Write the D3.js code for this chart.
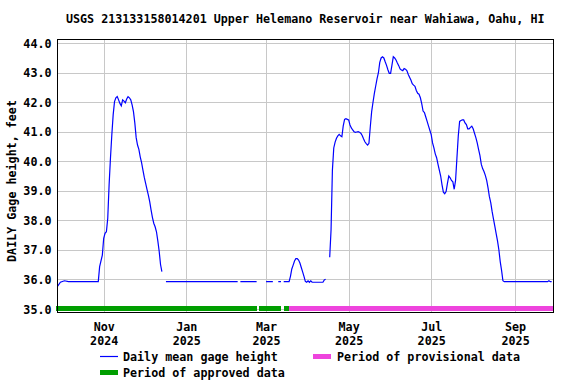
<!DOCTYPE html>
<html>
<head>
<meta charset="utf-8">
<script src="https://cdn.jsdelivr.net/npm/d3@7"></script>
<style>
  body { margin: 0; background: #fff; }
  svg text { font-family: "DejaVu Sans Mono", monospace; font-weight: bold; font-size: 11.7px; fill: #000; }
</style>
</head>
<body>
<svg id="chart" width="576" height="384"></svg>
<script>
const title = "USGS 213133158014201 Upper Helemano Reservoir near Wahiawa, Oahu, HI";
const yLabel = "DAILY Gage height, feet";

// daily mean gage height (null = no data)
const dates = [
  "2024-09-28","2024-09-30","2024-10-03","2024-10-06","2024-10-28","2024-10-29","2024-10-31",
  "2024-11-01","2024-11-02","2024-11-03","2024-11-04","2024-11-05","2024-11-06","2024-11-07",
  "2024-11-08","2024-11-09","2024-11-10","2024-11-11","2024-11-12","2024-11-13","2024-11-14",
  "2024-11-15","2024-11-16","2024-11-17","2024-11-18","2024-11-19","2024-11-20","2024-11-21",
  "2024-11-22","2024-11-23","2024-11-24","2024-11-25","2024-11-26","2024-11-27","2024-11-28",
  "2024-11-29","2024-11-30","2024-12-01","2024-12-02","2024-12-03","2024-12-04","2024-12-05",
  "2024-12-06","2024-12-07","2024-12-08","2024-12-09","2024-12-10","2024-12-11","2024-12-12",
  "2024-12-13","2024-12-14","2024-12-15","2024-12-17","2025-02-08","2025-02-09","2025-02-10",
  "2025-02-22","2025-02-23","2025-03-01","2025-03-06","2025-03-07","2025-03-10","2025-03-12",
  "2025-03-13","2025-03-14","2025-03-18","2025-03-19","2025-03-20","2025-03-21","2025-03-22",
  "2025-03-23","2025-03-24","2025-03-25","2025-03-26","2025-03-27","2025-03-28","2025-03-29",
  "2025-03-30","2025-03-31","2025-04-01","2025-04-02","2025-04-03","2025-04-04","2025-04-12",
  "2025-04-13","2025-04-14","2025-04-15","2025-04-17","2025-04-18","2025-04-19","2025-04-20",
  "2025-04-21","2025-04-22","2025-04-23","2025-04-24","2025-04-25","2025-04-26","2025-04-27",
  "2025-04-28","2025-04-29","2025-04-30","2025-05-01","2025-05-02","2025-05-03","2025-05-04",
  "2025-05-05","2025-05-06","2025-05-07","2025-05-08","2025-05-09","2025-05-10","2025-05-11",
  "2025-05-12","2025-05-13","2025-05-14","2025-05-15","2025-05-16","2025-05-17","2025-05-18",
  "2025-05-19","2025-05-20","2025-05-21","2025-05-22","2025-05-23","2025-05-24","2025-05-25",
  "2025-05-26","2025-05-27","2025-05-28","2025-05-29","2025-05-30","2025-05-31","2025-06-01",
  "2025-06-02","2025-06-03","2025-06-04","2025-06-05","2025-06-06","2025-06-07","2025-06-08",
  "2025-06-09","2025-06-10","2025-06-11","2025-06-12","2025-06-13","2025-06-14","2025-06-15",
  "2025-06-16","2025-06-17","2025-06-18","2025-06-19","2025-06-20","2025-06-21","2025-06-22",
  "2025-06-23","2025-06-24","2025-06-25","2025-06-26","2025-06-27","2025-06-28","2025-06-29",
  "2025-06-30","2025-07-01","2025-07-02","2025-07-03","2025-07-04","2025-07-05","2025-07-06",
  "2025-07-07","2025-07-08","2025-07-09","2025-07-10","2025-07-11","2025-07-12","2025-07-13",
  "2025-07-14","2025-07-15","2025-07-16","2025-07-17","2025-07-18","2025-07-19","2025-07-20",
  "2025-07-21","2025-07-22","2025-07-23","2025-07-24","2025-07-25","2025-07-26","2025-07-27",
  "2025-07-28","2025-07-29","2025-07-30","2025-07-31","2025-08-01","2025-08-02","2025-08-03",
  "2025-08-04","2025-08-05","2025-08-06","2025-08-07","2025-08-08","2025-08-09","2025-08-10",
  "2025-08-11","2025-08-12","2025-08-13","2025-08-14","2025-08-15","2025-08-16","2025-08-17",
  "2025-08-18","2025-08-19","2025-08-20","2025-08-21","2025-08-22","2025-08-23","2025-08-24",
  "2025-09-25","2025-09-26","2025-09-27","2025-09-28"
];
const values = [
  35.77, 35.90, 35.95, 35.92, 35.92, 36.43, 36.82,
  37.39, 37.56, 37.61, 38.07, 39.20, 40.10, 40.89,
  41.57, 42.02, 42.15, 42.19, 42.08, 41.96, 41.88,
  42.08, 42.04, 41.98, 42.11, 42.19, 42.15, 42.08,
  41.91, 41.68, 41.30, 40.80, 40.55, 40.40, 40.15,
  39.95, 39.70, 39.45, 39.25, 39.05, 38.85, 38.63,
  38.35, 38.10, 37.90, 37.78, 37.61, 37.30, 36.95,
  36.50, 36.26, null, 35.92, 35.92, null, 35.92,
  35.92, null, 35.92, 35.92, null, 35.92, 35.92,
  null, 35.92, 35.92, 36.10, 36.35, 36.48, 36.62,
  36.70, 36.70, 36.65, 36.55, 36.40, 36.25, 36.10,
  35.93, 35.90, 35.95, 35.90, 35.95, 35.90, 35.90,
  35.98, 36.00, null, 36.75, 37.67, 39.70, 40.45,
  40.65, 40.78, 40.86, 40.91, 40.86, 40.83, 41.20,
  41.42, 41.44, 41.42, 41.40, 41.23, 41.13, 41.06,
  41.00, 40.98, 40.99, 41.00, 40.98, 40.95, 40.87,
  40.76, 40.66, 40.60, 40.55, 40.61, 41.17, 41.68,
  42.00, 42.30, 42.55, 42.80, 43.00, 43.35, 43.50,
  43.54, 43.50, 43.37, 43.25, 43.10, 42.98, 42.98,
  43.26, 43.54, 43.50, 43.43, 43.33, 43.24, 43.13,
  43.09, 43.07, 43.14, 43.12, 43.07, 42.95, 42.85,
  42.75, 42.63, 42.58, 42.54, 42.40, 42.30, 42.27,
  42.15, 41.95, 41.70, 41.65, 41.50, 41.35, 41.20,
  41.05, 40.90, 40.62, 40.45, 40.25, 40.12, 39.90,
  39.70, 39.50, 39.20, 38.95, 38.90, 38.97, 39.25,
  39.50, 39.44, 39.35, 39.30, 39.05, 39.35, 40.10,
  40.85, 41.35, 41.38, 41.40, 41.40, 41.30, 41.24,
  41.10, 41.10, 41.15, 41.19, 41.10, 40.95, 40.80,
  40.62, 40.40, 40.20, 39.90, 39.75, 39.65, 39.52,
  39.35, 39.10, 38.80, 38.60, 38.30, 38.05, 37.80,
  37.55, 37.30, 37.00, 36.60, 36.30, 35.95, 35.92,
  35.92, 35.95, 35.92, 35.92
];

const yTicks = [35, 36, 37, 38, 39, 40, 41, 42, 43, 44];
const xTickDates = ["2024-11-01", "2025-01-01", "2025-03-01", "2025-05-01", "2025-07-01", "2025-09-01"];
const xTickMonths = ["Nov", "Jan", "Mar", "May", "Jul", "Sep"];
const xTickYears = ["2024", "2025", "2025", "2025", "2025", "2025"];

const approvedPeriods = [["2024-09-27", "2025-02-22"], ["2025-02-24", "2025-03-12"], ["2025-03-14", "2025-03-18"]];
const provisionalPeriods = [["2025-03-18", "2025-09-29"]];

const parse = d3.timeParse("%Y-%m-%d");
const series = dates.map((d, i) => ({date: parse(d), v: values[i]}));

const svg = d3.select("#chart");
const frame = {left: 57.5, right: 553, top: 39.5, bottom: 312};

const x = d3.scaleTime()
  .domain([new Date(2024, 8, 27, 12), new Date(2025, 8, 29, 0)])
  .range([57, 553]);

const y = d3.scaleLinear()
  .domain([35, 44])
  .range([308.8, 43.2]);

// gridlines
svg.append("g")
  .attr("transform", `translate(${frame.left},0)`)
  .call(d3.axisLeft(y).tickValues(yTicks).tickSize(-(frame.right - frame.left)).tickFormat(""))
  .call(g => g.select(".domain").remove())
  .call(g => g.selectAll("line").attr("stroke", "#c8c8c8").attr("shape-rendering", "crispEdges"));

svg.append("g")
  .attr("transform", `translate(0,${frame.bottom})`)
  .call(d3.axisBottom(x).tickValues(xTickDates.map(parse)).tickSize(-(frame.bottom - frame.top)).tickFormat(""))
  .call(g => g.select(".domain").remove())
  .call(g => g.selectAll("line").attr("stroke", "#c8c8c8").attr("shape-rendering", "crispEdges"));

// data quality bars along the bottom
svg.append("g").selectAll("rect")
  .data(approvedPeriods)
  .join("rect")
  .attr("x", d => x(parse(d[0])))
  .attr("width", d => x(parse(d[1])) - x(parse(d[0])))
  .attr("y", y(35) - 3)
  .attr("height", 5)
  .attr("fill", "#009e00")
  .attr("shape-rendering", "crispEdges");

svg.append("g").selectAll("rect")
  .data(provisionalPeriods)
  .join("rect")
  .attr("x", d => x(parse(d[0])))
  .attr("width", d => x(parse(d[1])) - x(parse(d[0])))
  .attr("y", y(35) - 3)
  .attr("height", 5)
  .attr("fill", "#ee44dd")
  .attr("shape-rendering", "crispEdges");

// gage height line
const line = d3.line()
  .defined(d => d.v != null)
  .x(d => x(d.date))
  .y(d => y(d.v));

svg.append("path")
  .datum(series)
  .attr("d", line)
  .attr("fill", "none")
  .attr("stroke", "#0000ff")
  .attr("stroke-width", 1.2);

// frame
svg.append("rect")
  .attr("x", frame.left)
  .attr("y", frame.top)
  .attr("width", frame.right - frame.left)
  .attr("height", frame.bottom - frame.top)
  .attr("fill", "none")
  .attr("stroke", "#000")
  .attr("shape-rendering", "crispEdges");

// y axis labels
svg.append("g")
  .attr("transform", `translate(${frame.left},0)`)
  .call(d3.axisLeft(y).tickValues(yTicks).tickSize(0).tickPadding(6).tickFormat(d3.format(".1f")))
  .call(g => g.select(".domain").remove())
  .call(g => g.selectAll("text").attr("font-family", null).attr("font-size", null).attr("dy", "0.36em"));

// x axis labels (month over year)
const xAxis = svg.append("g")
  .attr("transform", `translate(0,${frame.bottom})`)
  .call(d3.axisBottom(x).tickValues(xTickDates.map(parse)).tickSize(0).tickFormat(""))
  .call(g => g.select(".domain").remove());

xAxis.selectAll(".tick text").remove();
xAxis.selectAll(".tick").each(function(d, i) {
  const t = d3.select(this).append("text").attr("text-anchor", "middle");
  t.append("tspan").attr("x", 0).attr("y", 18.5).text(xTickMonths[i]);
  t.append("tspan").attr("x", 0).attr("y", 32.5).text(xTickYears[i]);
});

// title
svg.append("text")
  .attr("x", (frame.left + frame.right) / 2)
  .attr("y", 23)
  .attr("text-anchor", "middle")
  .text(title);

// y label
svg.append("text")
  .attr("transform", "translate(16,181) rotate(-90)")
  .attr("text-anchor", "middle")
  .text(yLabel);

// legend
const legend = svg.append("g");
legend.append("line")
  .attr("x1", 100).attr("x2", 118).attr("y1", 356.5).attr("y2", 356.5)
  .attr("stroke", "#0000ff").attr("stroke-width", 1.2);
legend.append("text").attr("x", 123).attr("y", 360.5).text("Daily mean gage height");

legend.append("rect")
  .attr("x", 313).attr("y", 354).attr("width", 18).attr("height", 5)
  .attr("fill", "#ee44dd");
legend.append("text").attr("x", 337).attr("y", 360.5).text("Period of provisional data");

legend.append("rect")
  .attr("x", 100).attr("y", 370).attr("width", 18).attr("height", 5)
  .attr("fill", "#009e00");
legend.append("text").attr("x", 123).attr("y", 376.5).text("Period of approved data");
</script>
</body>
</html>
